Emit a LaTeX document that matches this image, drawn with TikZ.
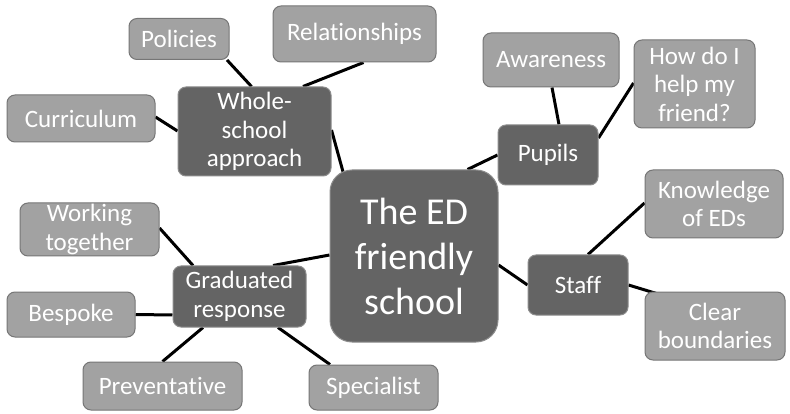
\documentclass[tikz,border=0pt]{standalone}
\usepackage{fontspec}
\setmainfont{Carlito}[Ligatures={NoCommon}]
\usetikzlibrary{backgrounds}
\definecolor{darkbox}{RGB}{100,100,100}
\definecolor{lightbox}{RGB}{162,162,162}
\definecolor{lightedge}{RGB}{118,118,118}
\definecolor{darkedge}{RGB}{140,140,140}
\tikzset{
  base/.style={rounded corners=8pt, text=white, align=center, inner sep=0pt,
    font=\fontsize{25}{28.5}\selectfont, line width=1pt},
  leaf/.style={base, fill=lightbox, draw=lightedge},
  hub/.style={base, fill=darkbox, draw=darkedge},
  core/.style={base, fill=darkbox, draw=darkedge, rounded corners=22pt,
    font=\fontsize{38}{45}\selectfont},
  link/.style={line width=3pt, black},
}
\begin{document}
\begin{tikzpicture}[x=1pt,y=-1pt]
\useasboundingbox (0,0) rectangle (790,414);
% hubs
\node[core, minimum width=168pt, minimum height=172pt] (ctr) at (414,256) {The ED\\friendly\\school};
\node[hub, minimum width=153pt, minimum height=89pt] (who) at (254.5,131.5) {Whole-\\school\\approach};
\node[hub, minimum width=100pt, minimum height=60pt] (pup) at (548,155) {Pupils};
\node[hub, minimum width=100pt, minimum height=60pt] (sta) at (578,285) {Staff};
\node[hub, minimum width=133pt, minimum height=61pt] (gra) at (239.5,296.5) {Graduated\\response};
% leaves
\node[leaf, minimum width=100pt, minimum height=41pt] (pol) at (179,39) {Policies};
\node[leaf, minimum width=163pt, minimum height=56pt] (rel) at (354.5,34) {Relationships};
\node[leaf, minimum width=148pt, minimum height=47pt] (cur) at (81,118.5) {Curriculum};
\node[leaf, minimum width=136pt, minimum height=54pt] (awa) at (551,60) {Awareness};
\node[leaf, minimum width=121pt, minimum height=88pt] (how) at (694.5,84) {How do I\\help my\\friend?};
\node[leaf, minimum width=138pt, minimum height=68pt] (kno) at (714,204) {Knowledge\\of EDs};
\node[leaf, minimum width=140pt, minimum height=68pt] (cle) at (715,326) {Clear\\boundaries};
\node[leaf, minimum width=139pt, minimum height=53pt] (wor) at (89.5,229.5) {Working\\together};
\node[leaf, minimum width=128pt, minimum height=45pt] (bes) at (71,314.5) {Bespoke};
\node[leaf, minimum width=159pt, minimum height=48pt] (pre) at (162.5,386) {Preventative};
\node[leaf, minimum width=129pt, minimum height=45pt] (spe) at (373.5,387.5) {Specialist};
% connectors
\begin{scope}[on background layer]
\fill[white] (0,0) rectangle (790,414);
\draw[link] ([xshift=48pt]pol.south) -- ([xshift=-3pt]who.north);
\draw[link] ([xshift=9pt]rel.south) -- ([xshift=48.5pt]who.north);
\draw[link] ([yshift=1.5pt]cur.east) -- ([yshift=0.5pt]who.west);
\draw[link] ([yshift=1.5pt]who.east) -- ([xshift=14pt,yshift=-4pt]ctr.north west);
\draw[link] ([xshift=-31pt]ctr.north east) -- (pup.west);
\draw[link] ([xshift=1pt]awa.south) -- ([xshift=11pt]pup.north);
\draw[link] ([yshift=17pt]pup.east) -- ([yshift=1pt]how.west);
\draw[link] ([xshift=10pt]sta.north) -- ([yshift=1pt]kno.west);
\draw[link] ([yshift=-9pt]ctr.east) -- (sta.west);
\draw[link] (sta.east) -- ([xshift=12pt,yshift=-2pt]cle.north west);
\draw[link] ([yshift=1.5pt]wor.east) -- ([xshift=-46.5pt]gra.north);
\draw[link] ([yshift=1pt]ctr.west) -- ([xshift=33.5pt]gra.north);
\draw[link] (bes.east) -- ([yshift=-18.5pt]gra.west);
\draw[link] (pre.north) -- ([xshift=-36.5pt]gra.south);
\draw[link] ([xshift=-43.5pt]spe.north) -- ([xshift=38.5pt]gra.south);
\end{scope}
\end{tikzpicture}
\end{document}
